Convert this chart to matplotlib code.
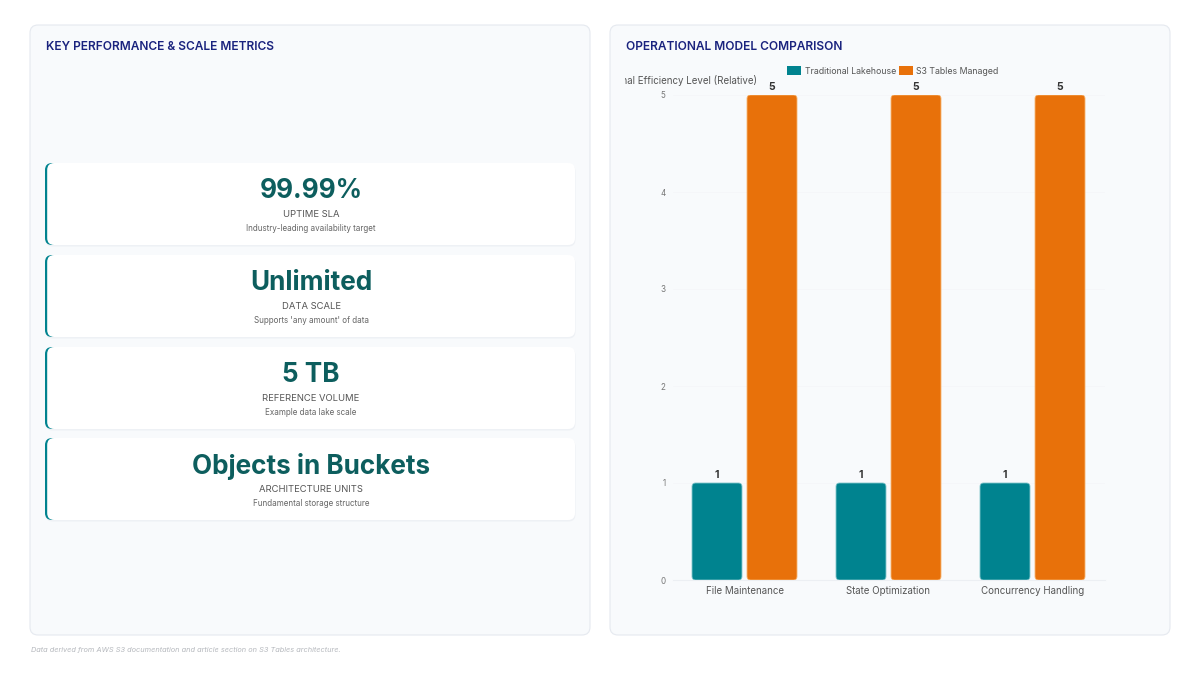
import matplotlib
matplotlib.use("Agg")
import matplotlib.pyplot as plt
from matplotlib.patches import FancyBboxPatch, Patch, Rectangle
from matplotlib.transforms import Bbox, TransformedBbox
import numpy as np

plt.rcParams['font.family'] = ['Inter', 'DejaVu Sans']

# ---------------- data ----------------
metric_values = ["99.99%", "Unlimited", "5 TB", "Objects in Buckets"]
metric_labels = ["UPTIME SLA", "DATA SCALE", "REFERENCE VOLUME", "ARCHITECTURE UNITS"]
metric_descs = ["Industry-leading availability target", "Supports 'any amount' of data",
                "Example data lake scale", "Fundamental storage structure"]

categories = ["File Maintenance", "State Optimization", "Concurrency Handling"]
series_names = ["Traditional Lakehouse", "S3 Tables Managed"]
traditional = [1, 1, 1]
s3_managed = [5, 5, 5]
y_ticks = [0, 1, 2, 3, 4, 5]

left_title = "KEY PERFORMANCE & SCALE METRICS"
right_title = "OPERATIONAL MODEL COMPARISON"
y_label = "Operational Efficiency Level (Relative)"
footer = "Data derived from AWS S3 documentation and article section on S3 Tables architecture."

# ---------------- styles ----------------
TEAL = "#00838f"
ORANGE = "#e8710a"
NAVY = "#1a237e"
VAL_COLOR = "#0d5e5e"
PANEL_BG = "#f8fafc"
PANEL_EDGE = "#e5e9ef"

W, H = 1200, 675
fig = plt.figure(figsize=(12, 6.75), dpi=100)
fig.patch.set_facecolor("white")

bg = fig.add_axes([0, 0, 1, 1], zorder=0)
bg.set_xlim(0, W)
bg.set_ylim(H, 0)
bg.axis("off")


def rbox(x, y, w, h, r, fc, ec="none", lw=0, z=1):
    p = FancyBboxPatch((x, y), w, h, boxstyle=f"round,pad=0,rounding_size={r}",
                       fc=fc, ec=ec, lw=lw, zorder=z)
    bg.add_patch(p)
    return p

# panels
rbox(30, 25, 560, 610, 8, PANEL_BG, PANEL_EDGE, 0.8)
rbox(610, 25, 560, 610, 8, PANEL_BG, PANEL_EDGE, 0.8)

bg.text(46, 47, left_title, fontsize=8.6, fontweight="semibold", color=NAVY, va="center", ha="left")
bg.text(626, 47, right_title, fontsize=8.6, fontweight="semibold", color=NAVY, va="center", ha="left")

# metric cards
card_tops = [163, 255, 347, 438]
card_h = 82
for top, v, lab, d in zip(card_tops, metric_values, metric_labels, metric_descs):
    rbox(45.5, top + 1.5, 530, card_h, 7, "#eef1f5", z=1)  # soft shadow
    rbox(45, top, 40, card_h, 7, TEAL, z=2)
    rbox(47.2, top, 527.8, card_h, 7, "white", z=3)
    cx = 311
    bg.text(cx, top + 28.5, v, fontsize=18.8, fontweight="bold", color=VAL_COLOR,
            ha="center", va="center", zorder=4)
    bg.text(cx, top + 51.5, lab, fontsize=6.8, color="#555555", ha="center", va="center", zorder=4)
    bg.text(cx, top + 65.5, d, fontsize=5.8, color="#666666", ha="center", va="center", zorder=4)

# footer
bg.text(31, 650, footer, fontsize=5.3, style="italic", color="#b5b8bd", ha="left", va="center")

# clipped y label
t = bg.text(757, 80, y_label, fontsize=7.0, color="#555555", ha="right", va="center", zorder=5)
t.set_clip_box(TransformedBbox(Bbox([[625, 0], [1200, 675]]), bg.transData))
t.set_clip_on(True)

# ---------------- bar chart ----------------
ax_l, ax_r, ax_t, ax_b = 672.5, 1104.5, 95, 580
ax = fig.add_axes([ax_l / W, 1 - ax_b / H, (ax_r - ax_l) / W, (ax_b - ax_t) / H], zorder=2)
ax.patch.set_alpha(0)

x = np.arange(len(categories))
bw = 0.347
off = 0.191
b1 = ax.bar(x - off, traditional, bw, color=TEAL, label=series_names[0])
b2 = ax.bar(x + off, s3_managed, bw, color=ORANGE, label=series_names[1])

px_x = (ax_r - ax_l) / 3.0
px_y = (ax_b - ax_t) / 5.0
for bars, col, edge in ((b1, TEAL, "#7fc4ca"), (b2, ORANGE, "#f6b26b")):
    for rect in bars:
        rect.set_visible(False)
        rx, ry = rect.get_x(), rect.get_y()
        rw, rh = rect.get_width(), rect.get_height()
        p = FancyBboxPatch((rx, ry), rw, rh,
                           boxstyle="round,pad=0,rounding_size=0.025",
                           mutation_aspect=px_x / px_y,
                           fc=col, ec=edge, lw=0.6, zorder=3)
        ax.add_patch(p)
        ax.text(rx + rw / 2, ry + rh + 0.035, f"{rh:g}", ha="center", va="bottom",
                fontsize=7.5, fontweight="bold", color="#333333", clip_on=False)

ax.set_xlim(-0.5, 2.5)
ax.set_ylim(0, 5)
ax.set_yticks(y_ticks)
ax.set_yticklabels([str(v) for v in y_ticks], fontsize=5.8, color="#777777")
ax.set_xticks(x)
ax.set_xticklabels(categories, fontsize=7, color="#555555")
ax.tick_params(axis="both", length=0)
ax.tick_params(axis="y", pad=5)
ax.tick_params(axis="x", pad=4)
for s in ("top", "right", "left"):
    ax.spines[s].set_visible(False)
ax.spines["bottom"].set_color("#eceff3")
ax.spines["bottom"].set_linewidth(0.8)
ax.grid(axis="y", color="#f4f5f8", linewidth=0.5)
ax.set_axisbelow(True)

handles = [Patch(facecolor=TEAL, edgecolor="none"), Patch(facecolor=ORANGE, edgecolor="none")]
leg = fig.legend(handles, series_names, loc="center", bbox_to_anchor=(893 / W, 1 - 71 / H),
                 ncol=2, frameon=False, fontsize=6.3, handlelength=1.6, handleheight=1.05,
                 handletextpad=0.4, columnspacing=0.3, labelcolor="#555555")

fig.savefig("out.png", dpi=100, facecolor=fig.get_facecolor())
